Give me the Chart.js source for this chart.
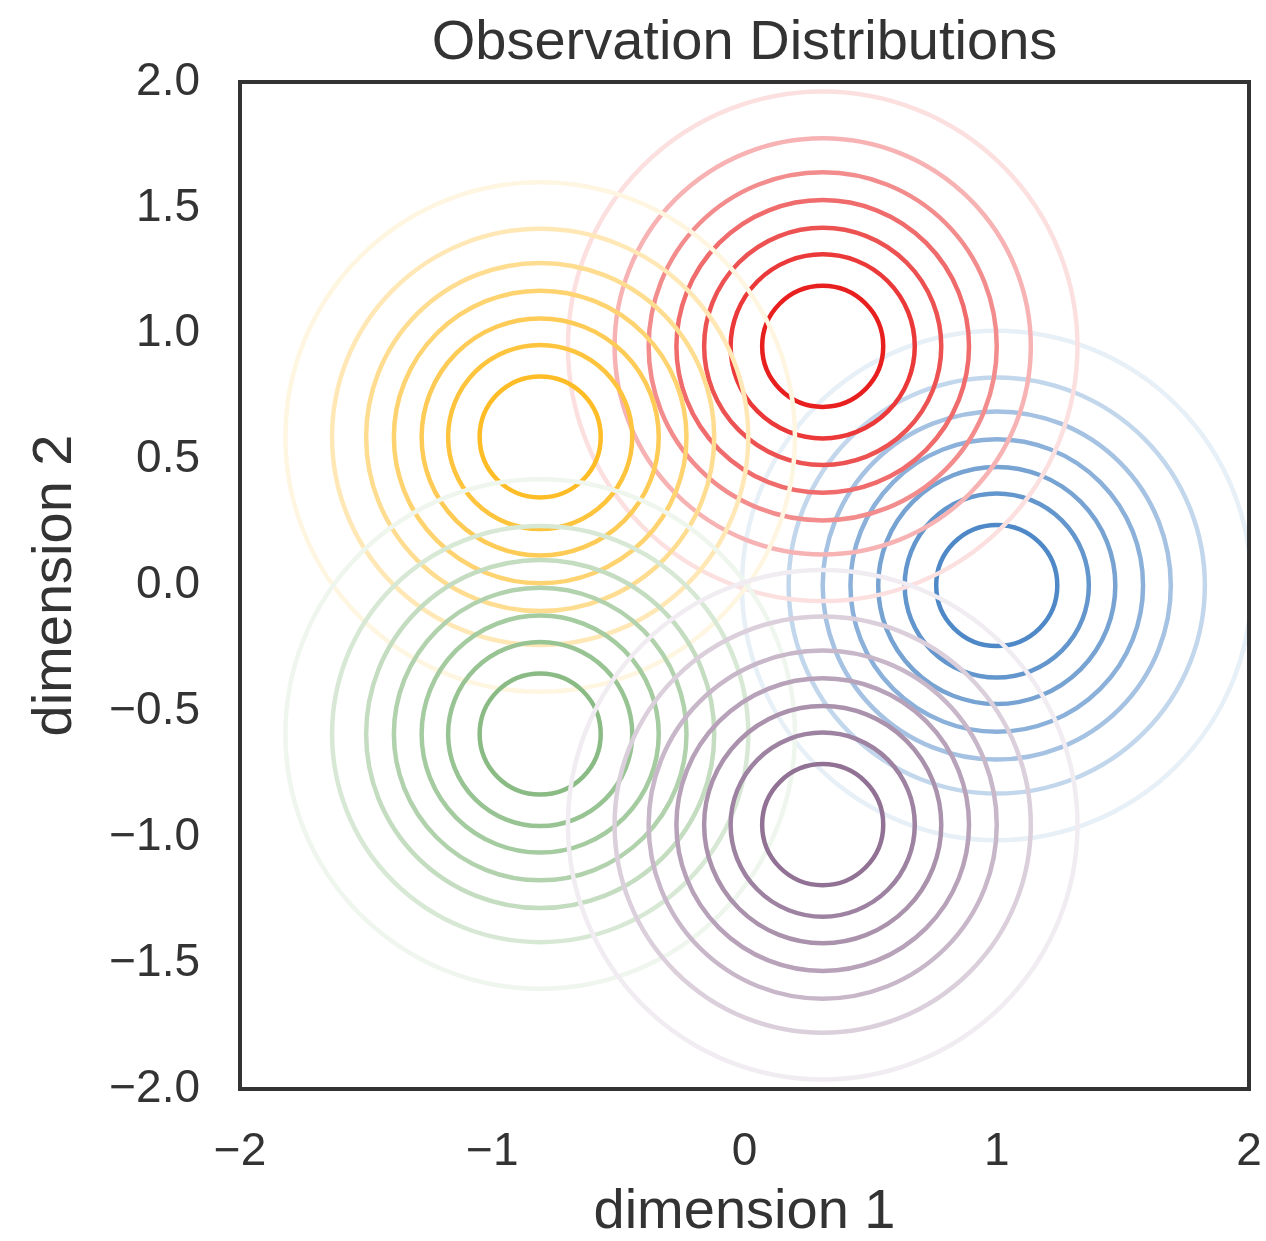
<!DOCTYPE html>
<html lang="en">

<head>
  <meta charset="UTF-8">
  <title>Observation Distributions</title>
  <script src="https://cdn.jsdelivr.net/npm/chart.js@4"></script>
  <style>
    html, body {
      margin: 0;
      padding: 0;
      background: #fff;
    }

    .chart-box {
      width: 1266px;
      height: 1241px;
    }
  </style>
</head>

<body>
  <div class="chart-box">
    <canvas id="obsChart" width="1266" height="1241"></canvas>
  </div>

  <script>
    // state means (dimension 1, dimension 2)
    const stateNames = ['state 1', 'state 2', 'state 3', 'state 4', 'state 5'];
    const centerX = [1.0, 0.31, -0.81, -0.81, 0.31];
    const centerY = [0.0, 0.95, 0.59, -0.59, -0.95];
    const stateColors = ['#3778bf', '#e50000', '#feb308', '#7bb274', '#825f87'];

    // contour radii in data units, outer -> inner, and how much colour each one has
    const contourRadii = [1.01, 0.825, 0.69, 0.58, 0.47, 0.365, 0.24];
    const contourShade = [0.12, 0.3, 0.45, 0.58, 0.68, 0.78, 0.88];

    const xTicks = [-2, -1, 0, 1, 2];
    const yTicks = [-2.0, -1.5, -1.0, -0.5, 0.0, 0.5, 1.0, 1.5, 2.0];

    const textColor = '#333333';
    const fontFamily = '"Liberation Sans", Arial, Helvetica, sans-serif';

    // white -> colour mix, like a white_to_color colormap
    function shade(hex, t) {
      const n = parseInt(hex.slice(1), 16);
      const r = (n >> 16) & 255, g = (n >> 8) & 255, b = n & 255;
      const mix = c => Math.round(255 + (c - 255) * t);
      return `rgb(${mix(r)}, ${mix(g)}, ${mix(b)})`;
    }

    function minus(v) {
      return String(v).replace('-', '\u2212');
    }

    const datasets = stateNames.map((name, i) => ({
      label: name,
      data: contourRadii.map(r => ({ x: centerX[i], y: centerY[i], r: r })),
      pointStyle: 'circle',
      backgroundColor: 'rgba(0,0,0,0)',
      borderColor: contourShade.map(t => shade(stateColors[i], t)),
      borderWidth: 4.5,
      pointRadius: ctx => {
        const s = ctx.chart.scales.x;
        return Math.abs(s.getPixelForValue(ctx.raw.r) - s.getPixelForValue(0));
      },
      order: stateNames.length - i,
      clip: 0
    }));

    // frame round the plot area
    const framePlugin = {
      id: 'frame',
      afterDatasetsDraw(chart) {
        const { ctx, chartArea: a } = chart;
        ctx.save();
        ctx.strokeStyle = '#333333';
        ctx.lineWidth = 4;
        ctx.strokeRect(a.left, a.top, a.right - a.left, a.bottom - a.top);
        ctx.restore();
      }
    };

    const noSidePad = s => { s.paddingLeft = 0; s.paddingRight = 0; };

    new Chart(document.getElementById('obsChart'), {
      type: 'scatter',
      data: { datasets: datasets },
      plugins: [framePlugin],
      options: {
        responsive: false,
        animation: false,
        events: [],
        layout: { padding: { left: 0, right: 17, top: 0, bottom: 0 } },
        scales: {
          x: {
            type: 'linear',
            min: -2,
            max: 2,
            afterBuildTicks: s => { s.ticks = xTicks.map(v => ({ value: v })); },
            afterFit: s => { s.height = 152; noSidePad(s); },
            grid: { display: false, drawTicks: false },
            border: { display: false },
            ticks: {
              color: textColor,
              padding: 36,
              maxRotation: 0,
              font: { family: fontFamily, size: 46 },
              callback: v => minus(v)
            },
            title: {
              display: true,
              text: 'dimension 1',
              color: textColor,
              padding: { top: 0, bottom: 0 },
              font: { family: fontFamily, size: 56, lineHeight: 1.0 }
            }
          },
          // top axis only carries the chart title, so it centres over the plot
          top: {
            type: 'linear',
            position: 'top',
            min: -2,
            max: 2,
            afterFit: s => { s.height = 82; noSidePad(s); },
            grid: { display: false, drawTicks: false },
            border: { display: false },
            ticks: { display: false },
            title: {
              display: true,
              text: 'Observation Distributions',
              color: textColor,
              padding: { top: 10, bottom: 0 },
              font: { family: fontFamily, size: 56 }
            }
          },
          y: {
            type: 'linear',
            min: -2,
            max: 2,
            afterBuildTicks: s => { s.ticks = yTicks.map(v => ({ value: v })); },
            afterFit: s => { s.width = 240; },
            grid: { display: false, drawTicks: false },
            border: { display: false },
            ticks: {
              color: textColor,
              padding: 40,
              font: { family: fontFamily, size: 46 },
              callback: v => minus(v.toFixed(1))
            },
            title: {
              display: true,
              text: 'dimension 2',
              color: textColor,
              padding: { top: 22, bottom: 0 },
              font: { family: fontFamily, size: 56 }
            }
          }
        },
        plugins: {
          legend: { display: false },
          tooltip: { enabled: false },
          title: { display: false }
        }
      }
    });
  </script>
</body>

</html>
